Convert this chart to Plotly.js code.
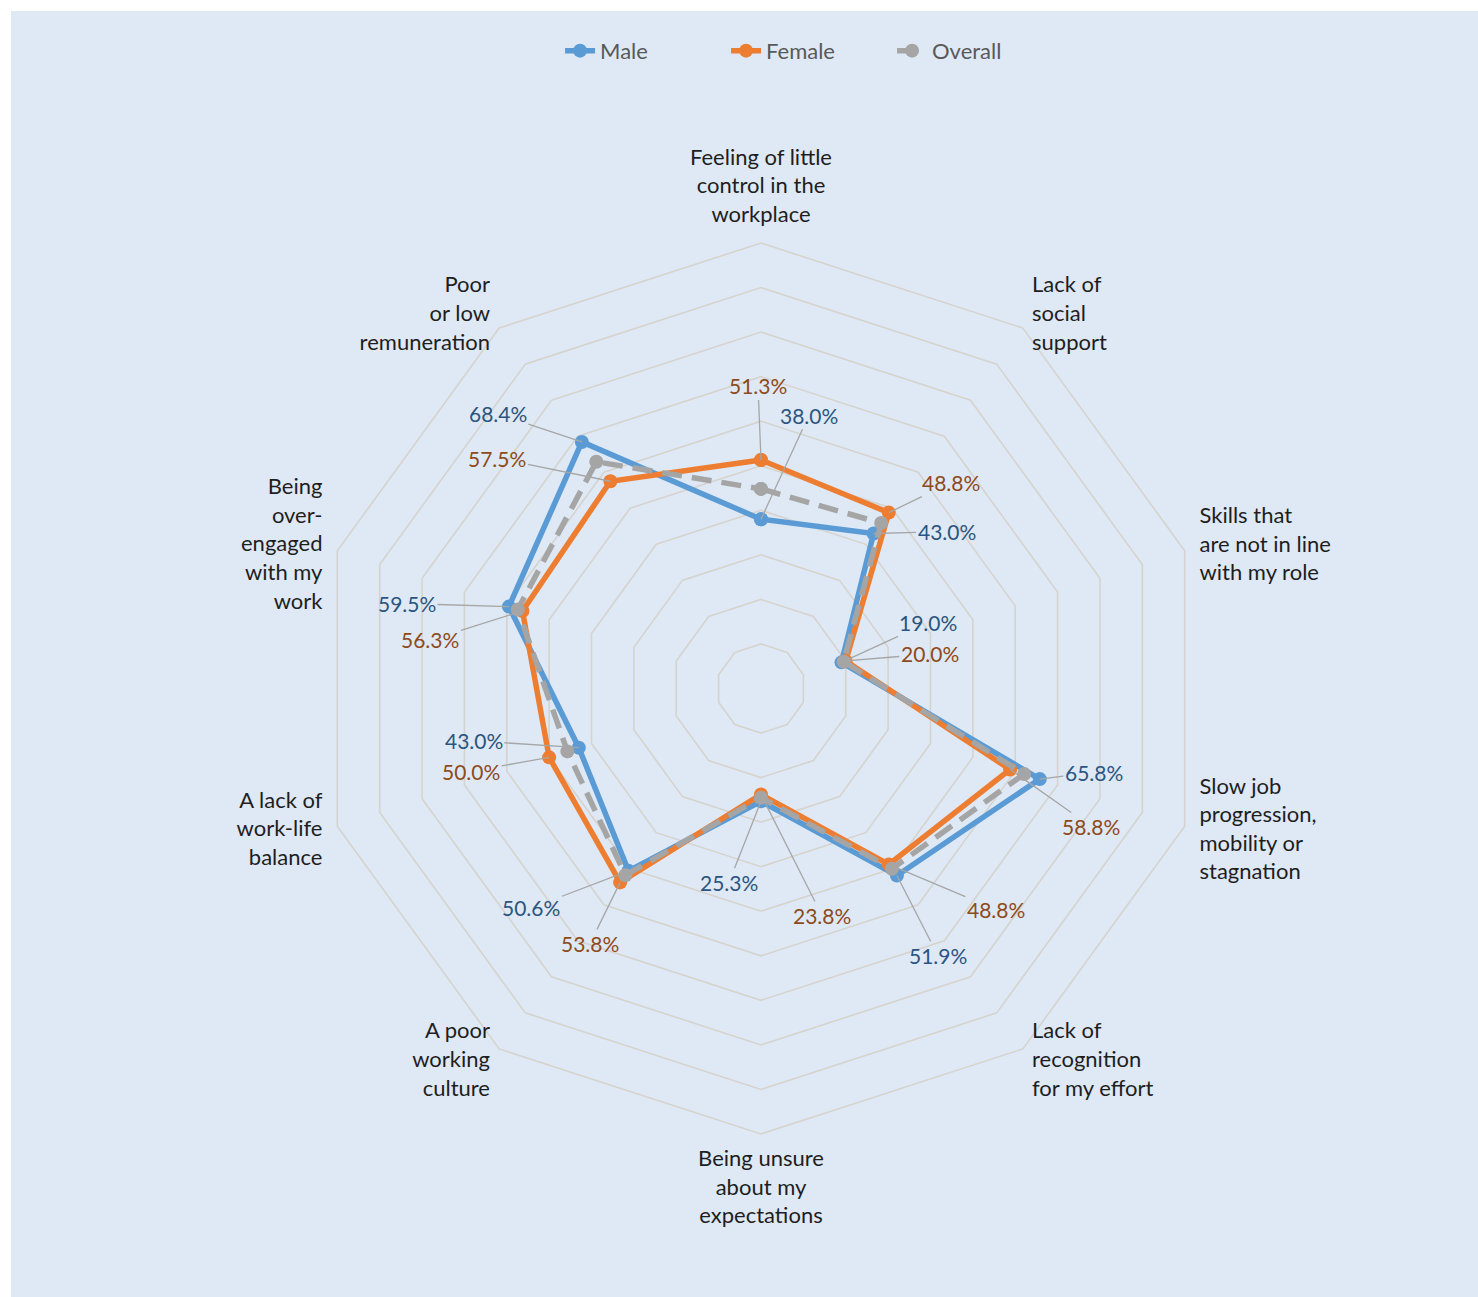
<!DOCTYPE html>
<html>
<head>
<meta charset="utf-8">
<script src="https://cdn.plot.ly/plotly-3.0.1.min.js"></script>
<style>
  html, body { margin: 0; padding: 0; background: #ffffff; width: 1478px; height: 1297px; overflow: hidden; }
  #chart { position: absolute; left: 11px; top: 11px; width: 1467px; height: 1286px; }
</style>
</head>
<body>
<div id="chart"></div>
<script>
// ---- data ----
const categoryLabels = [
  "Feeling of little<br>control in the<br>workplace",
  "Lack of<br>social<br>support",
  "Skills that<br>are not in line<br>with my role",
  "Slow job<br>progression,<br>mobility or<br>stagnation",
  "Lack of<br>recognition<br>for my effort",
  "Being unsure<br>about my<br>expectations",
  "A poor<br>working<br>culture",
  "A lack of<br>work-life<br>balance",
  "Being<br>over-<br>engaged<br>with my<br>work",
  "Poor<br>or low<br>remuneration"
];
const maleValues    = [38.0, 43.0, 19.0, 65.8, 51.9, 25.3, 50.6, 43.0, 59.5, 68.4];
const femaleValues  = [51.3, 48.8, 20.0, 58.8, 48.8, 23.8, 53.8, 50.0, 56.3, 57.5];
const overallValues = [44.8, 45.9, 19.5, 62.1, 50.0, 24.5, 51.8, 45.7, 57.4, 62.9];
const gridTicks     = [10, 20, 30, 40, 50, 60, 70, 80, 90, 100];

// ---- positions / styles ----
// pixel offsets of the data labels (leader lines) from their points
const maleLabelOffsets = [[48,-104],[73,-2],[87,-40],[54,-7],[41,80],[-32,81],[-97,37],[-105,-7],[-102,-3],[-84,-28]];
const femaleLabelOffsets = [[-3,-74],[62,-30],[84,-7],[81,57],[107,45],[61,121],[-30,61],[-78,14],[-92,29],[-113,-23]];
const categoryLabelRadius = 103.5;   // radial anchor of the category labels (axis units)
const categoryLabelSides = ['top center','middle right','middle right','middle right','middle right',
                            'bottom center','middle left','middle left','middle left','middle left'];
const axisMax = 120;                 // radial extent of the plotting area (room for labels)

const colMale = '#5b9bd5', colFemale = '#ed7d31', colOverall = '#a5a5a5';
const colMaleTxt = '#2b5580', colFemaleTxt = '#8e4a1a';
const gridCol = '#d6d3ce';
const fontFam = 'Lato, "Open Sans", sans-serif';

function closeLoop(a) { return a.concat([a[0]]); }
const n = categoryLabels.length;

function polarTrace(name, vals, color, dash) {
  return {
    type: 'scatterpolar',
    name: name,
    r: closeLoop(vals),
    theta: closeLoop(categoryLabels),
    mode: 'lines+markers',
    line: { color: color, width: 5.5, dash: dash || 'solid' },
    marker: { color: color, size: 14 },
    hoverinfo: 'skip'
  };
}

const categoryTextTrace = {
  type: 'scatterpolar',
  r: categoryLabels.map(() => categoryLabelRadius),
  theta: categoryLabels,
  mode: 'text',
  text: categoryLabels,
  textposition: categoryLabelSides,
  textfont: { family: fontFam, size: 22, color: '#1e1e1e' },
  cliponaxis: false,
  showlegend: false,
  hoverinfo: 'skip'
};

// cartesian positions derived from the values (same scale as the polar axis)
function toXY(vals) {
  return vals.map((v, k) => {
    const a = 2 * Math.PI * k / n;
    return [v * Math.sin(a), v * Math.cos(a)];
  });
}
const maleXY = toXY(maleValues);
const femaleXY = toXY(femaleValues);

const anchorTrace = {
  type: 'scatter',
  x: maleXY.map(p => p[0]).concat(femaleXY.map(p => p[0])),
  y: maleXY.map(p => p[1]).concat(femaleXY.map(p => p[1])),
  mode: 'markers',
  marker: { opacity: 0, size: 1 },
  showlegend: false,
  hoverinfo: 'skip',
  xaxis: 'x', yaxis: 'y'
};

const annotations = [];
function addLabels(xy, vals, offsets, color) {
  xy.forEach((p, k) => {
    annotations.push({
      x: p[0], y: p[1], xref: 'x', yref: 'y',
      text: vals[k].toFixed(1) + '%',
      showarrow: true, arrowhead: 0, arrowwidth: 1.3, arrowcolor: '#a6a6a6',
      standoff: 0,
      ax: offsets[k][0], ay: offsets[k][1],
      font: { family: fontFam, size: 21, color: color }
    });
  });
}
addLabels(maleXY, maleValues, maleLabelOffsets, colMaleTxt);
addLabels(femaleXY, femaleValues, femaleLabelOffsets, colFemaleTxt);

// square domain centred on the chart centre; 100 units = 445.5 px
const xDom = [0.146830, 0.875665];
const yDom = [0.057465, 0.888880];

const data = [
  anchorTrace,
  polarTrace('Male', maleValues, colMale),
  polarTrace('Female', femaleValues, colFemale),
  polarTrace('Overall', overallValues, colOverall, '20px,10px'),
  categoryTextTrace
];

const layout = {
  width: 1467, height: 1286,
  margin: { l: 0, r: 0, t: 0, b: 0, pad: 0 },
  paper_bgcolor: '#dee9f5',
  plot_bgcolor: 'rgba(0,0,0,0)',
  font: { family: fontFam, size: 22, color: '#1e1e1e' },
  showlegend: true,
  legend: {
    orientation: 'h', x: 0.544, xanchor: 'center', y: 0.969, yanchor: 'middle',
    font: { family: fontFam, size: 22, color: '#595959' },
    entrywidth: 121, entrywidthmode: 'pixels',
    bgcolor: 'rgba(0,0,0,0)', traceorder: 'normal'
  },
  xaxis: { domain: xDom, range: [-axisMax, axisMax], visible: false, fixedrange: true },
  yaxis: { domain: yDom, range: [-axisMax, axisMax], visible: false, fixedrange: true },
  polar: {
    domain: { x: xDom, y: yDom },
    bgcolor: 'rgba(0,0,0,0)',
    gridshape: 'linear',
    radialaxis: {
      range: [0, axisMax], tickmode: 'array', tickvals: gridTicks,
      showticklabels: false, ticks: '', showline: false,
      gridcolor: gridCol, gridwidth: 1.6
    },
    angularaxis: {
      rotation: 90, direction: 'clockwise',
      showgrid: false, showline: false,
      ticks: '', showticklabels: false
    }
  },
  annotations: annotations
};

Plotly.newPlot('chart', data, layout, { staticPlot: true, displayModeBar: false });
</script>
</body>
</html>
